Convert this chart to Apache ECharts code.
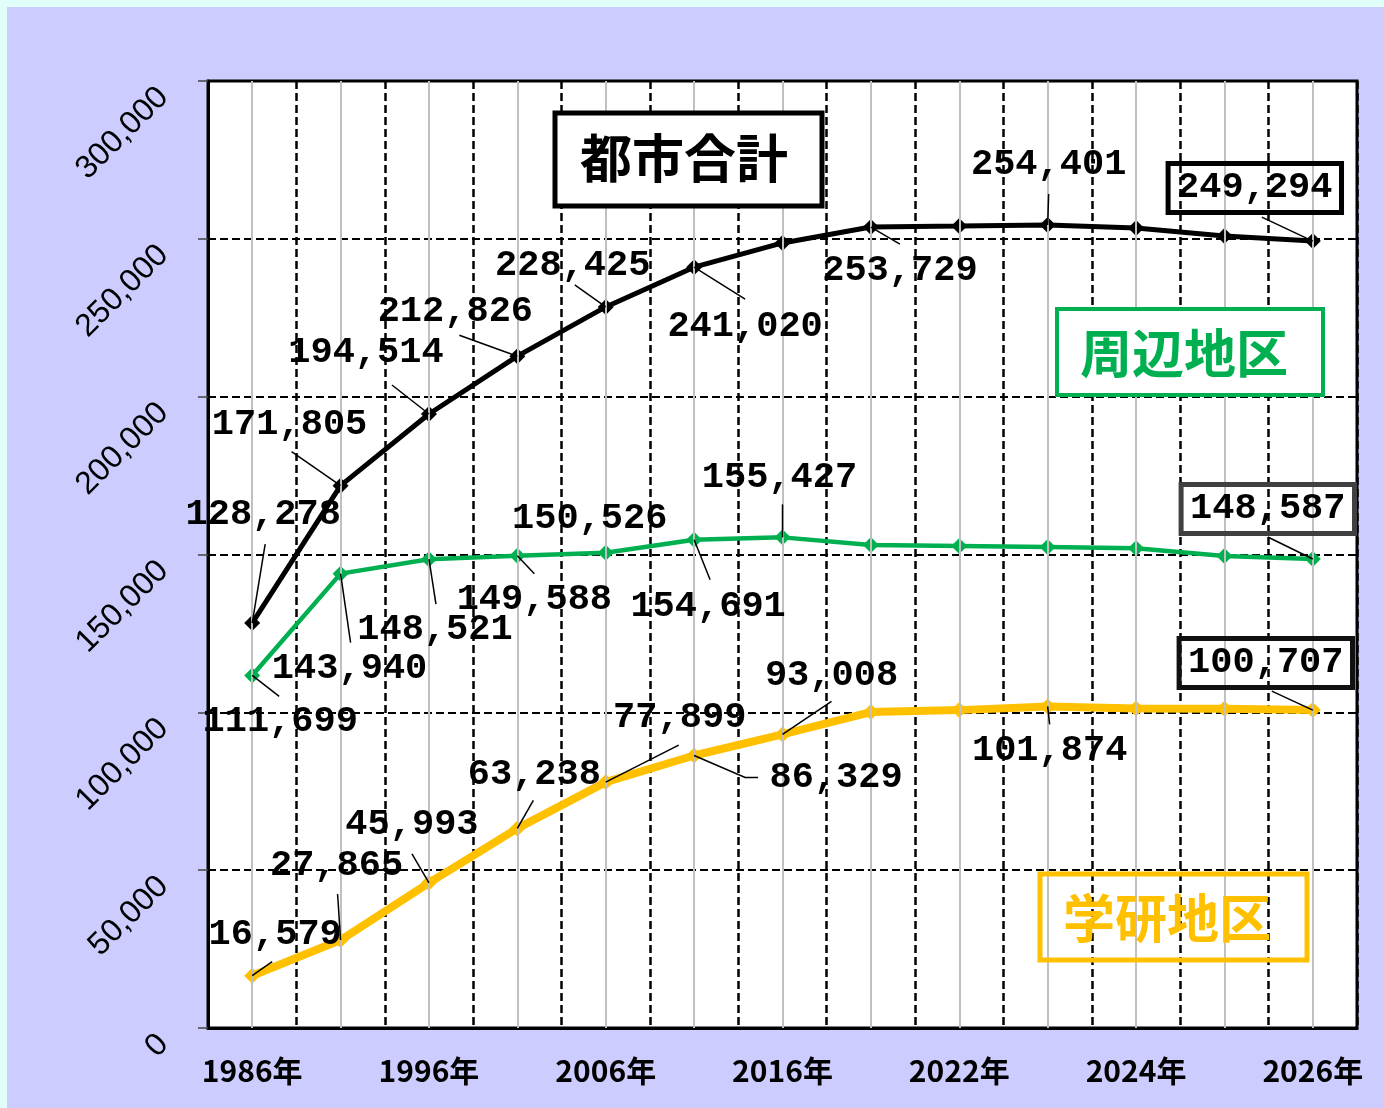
<!DOCTYPE html>
<html lang="ja">
<head>
    <meta charset="UTF-8">
    <title>都市合計 推移</title>
    <script src="https://cdn.jsdelivr.net/npm/echarts@6/dist/echarts.min.js"></script>
    <style>
        html, body { margin: 0; padding: 0; background: #e0fff8; }
        #main { position: absolute; left: 7px; top: 7px; width: 1377px; height: 1101px; background: #ccccff; }
    </style>
</head>
<body>
<div id="main"></div>
<script>
    // 年次（奇数番目のラベルは非表示）
    var years = ['1986年', '1991年', '1996年', '2001年', '2006年', '2011年', '2016年',
                 '2020年', '2022年', '2023年', '2024年', '2025年', '2026年'];

    // 都市合計
    var totalData = [128278, 171805, 194514, 212826, 228425, 241020, 248700,
                     253729, 254050, 254401, 253400, 250900, 249294];
    // 周辺地区
    var shuhenData = [111699, 143940, 148521, 149588, 150526, 154691, 155427,
                      153000, 152700, 152400, 152000, 149500, 148587];
    // 学研地区
    var gakkenData = [16579, 27865, 45993, 63238, 77899, 86329, 93008,
                      100100, 100700, 101874, 101200, 101100, 100707];

    var yTicks = [0, 50000, 100000, 150000, 200000, 250000, 300000];

    // ラベル中心の位置（点からのずれ px）。null はラベルなし
    var totalLabelPos = [[11, -108], [-51, -61], [-63, -61], [-62, -44], [-33, -41], [51, 60], null,
                         [29, 44], null, [1, -60], null, null, [-58, -53]];
    var shuhenLabelPos = [[28, 46], [9, 95], [6, 71], [17, 44], [-16, -34], [14, 67], [-3, -60],
                          null, null, null, null, null, [-45, -50]];
    var gakkenLabelPos = [[23, -41], [-4, -74], [-17, -58], [17, -54], [74, -64], [142, 22], [49, -59],
                          null, null, [2, 44], null, null, [-47, -47]];

    // 引き出し線（点からの折れ点 px）
    var totalLeaders = [[[13, -79]], [[-49, -34]], [[-37, -29]], [[-58, -21]], [[-31, -22]], [[51, 32]], null,
                        [[29, 17]], null, [[1, -31]], null, null, [[-51, -24]]];
    var shuhenLeaders = [[[27, 21]], [[10, 69]], [[7, 45]], [[17, 18]], null, [[16, 40]], [[0, -33]],
                         null, null, null, null, null, [[-45, -22]]];
    var gakkenLeaders = [[[20, -14]], [[-3, -46]], [[-17, -29]], [[16, -28]], [[73, -37]], [[51, 22], [64, 22]], [[49, -33]],
                         null, null, [[2, 18]], null, null, [[-41, -19]]];

    function comma(v) {
        return String(v).replace(/\B(?=(\d{3})+(?!\d))/g, ',');
    }

    var labelFont = 'bold 37px "Liberation Mono"';

    // 数値ラベルと引き出し線（最後の点は枠付き）
    function labelSeries(values, pos, leaders, boxColor) {
        return {
            type: 'custom',
            silent: true,
            clip: false,
            z: 10,
            data: values.map(function (v, i) { return [i, v]; }),
            renderItem: function (params, api) {
                var i = params.dataIndex;
                var o = pos[i];
                if (!o) return null;
                var pt = api.coord([api.value(0), api.value(1)]);
                var children = [];
                if (leaders[i]) {
                    var pts = [[pt[0], pt[1]]];
                    leaders[i].forEach(function (d) { pts.push([pt[0] + d[0], pt[1] + d[1]]); });
                    children.push({
                        type: 'polyline',
                        shape: { points: pts },
                        style: { stroke: '#000', lineWidth: 1.5, fill: null }
                    });
                }
                var st = {
                    text: comma(values[i]),
                    font: labelFont,
                    fill: '#000',
                    align: 'center',
                    verticalAlign: 'middle'
                };
                if (i === values.length - 1) {
                    st.borderColor = boxColor;
                    st.borderWidth = 5;
                    st.padding = [7, 9, 5, 9];
                }
                children.push({ type: 'text', x: pt[0] + o[0], y: pt[1] + o[1], style: st });
                return { type: 'group', children: children };
            }
        };
    }

    function lineSeries(name, values, color, width) {
        return {
            name: name,
            type: 'line',
            data: values,
            symbol: 'diamond',
            symbolSize: 16,
            itemStyle: { color: color },
            lineStyle: { color: color, width: width },
            label: { show: false },
            z: 4
        };
    }

    var myChart = echarts.init(document.getElementById('main'));
    var option = {
        animation: false,
        grid: {
            left: 201, top: 74, right: 27, bottom: 80,
            show: true,
            backgroundColor: '#fff',
            borderColor: '#000',
            borderWidth: 3
        },
        xAxis: {
            type: 'category',
            data: years,
            boundaryGap: true,
            axisLine: { lineStyle: { color: '#000', width: 3 } },
            axisTick: { show: false },
            axisLabel: {
                interval: 1,
                margin: 28,
                color: '#000',
                fontFamily: 'Liberation Sans Narrow, Noto Sans CJK JP',
                fontWeight: 'bold',
                fontSize: 30
            },
            splitLine: {
                show: true,
                interval: 0,
                lineStyle: { color: '#000', type: [8, 4], width: 2.5 }
            }
        },
        yAxis: {
            type: 'value',
            min: yTicks[0],
            max: yTicks[yTicks.length - 1],
            interval: 50000,
            axisLine: { show: true, lineStyle: { color: '#000', width: 3 } },
            axisTick: { show: true, length: 10, lineStyle: { color: '#444', width: 1.5 } },
            axisLabel: {
                rotate: 45,
                margin: 56,
                verticalAlign: 'top',
                color: '#000',
                fontFamily: 'Liberation Sans',
                fontSize: 32,
                formatter: function (v) { return comma(v); }
            },
            splitLine: { lineStyle: { color: '#000', type: [8, 4], width: 2 } }
        },
        graphic: [
            { type: 'rect', shape: { x: 548, y: 106, width: 267, height: 93 },
              style: { fill: '#fff', stroke: '#000', lineWidth: 5 }, z: 50 },
            { type: 'text', x: 573, y: 151, z: 51,
              style: { text: '都市合計', fill: '#000', font: 'bold 52px "Noto Sans CJK JP"',
                       verticalAlign: 'middle' } },
            { type: 'rect', shape: { x: 1050, y: 302, width: 266, height: 86 },
              style: { fill: '#fff', stroke: '#00b050', lineWidth: 4 }, z: 50 },
            { type: 'text', x: 1073, y: 346, z: 51,
              style: { text: '周辺地区', fill: '#00b050', font: 'bold 52px "Noto Sans CJK JP"',
                       verticalAlign: 'middle' } },
            { type: 'rect', shape: { x: 1033, y: 867, width: 267, height: 86 },
              style: { fill: 'none', stroke: '#ffc000', lineWidth: 5 }, z: 50 },
            { type: 'text', x: 1056, y: 911, z: 51,
              style: { text: '学研地区', fill: '#ffc000', font: 'bold 52px "Noto Sans CJK JP"',
                       verticalAlign: 'middle' } }
        ],
        series: [
            {
                // 各年の灰色の縦線
                type: 'line',
                data: [],
                silent: true,
                markLine: {
                    silent: true,
                    symbol: ['none', 'none'],
                    label: { show: false },
                    lineStyle: { color: '#c0c0c0', type: 'solid', width: 2 },
                    data: years.map(function (y, i) { return { xAxis: i }; })
                }
            },
            lineSeries('都市合計', totalData, '#000', 5),
            lineSeries('周辺地区', shuhenData, '#00b050', 4.5),
            lineSeries('学研地区', gakkenData, '#ffc000', 8),
            labelSeries(totalData, totalLabelPos, totalLeaders, '#000'),
            labelSeries(shuhenData, shuhenLabelPos, shuhenLeaders, '#404040'),
            labelSeries(gakkenData, gakkenLabelPos, gakkenLeaders, '#111')
        ]
    };
    myChart.setOption(option);
</script>
</body>
</html>
